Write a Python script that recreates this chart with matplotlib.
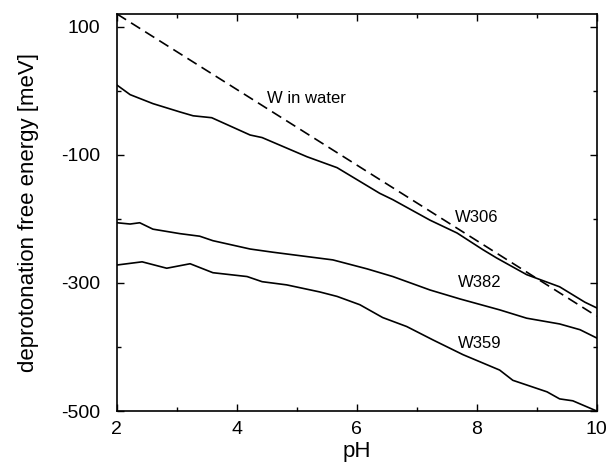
import matplotlib
matplotlib.use("Agg")
import matplotlib.pyplot as plt
from matplotlib.ticker import MultipleLocator

plt.rcParams['font.family'] = ['Liberation Sans', 'DejaVu Sans']
plt.rcParams['axes.unicode_minus'] = False

# W in water (straight line)
ph_water = [2.0, 10.0]
e_water = [120, -352]

ph_306 = [2.0, 2.22, 2.6, 3.05, 3.27, 3.58, 4.22, 4.42, 5.17, 5.67, 6.38, 6.6, 7.22, 7.67, 8.1, 8.33, 8.83, 9.38, 9.8, 10.0]
e_306 = [9, -6, -20, -33, -39, -42, -69, -73, -103, -120, -160, -170, -202, -222, -248, -261, -287, -306, -330, -339]

ph_382 = [2.0, 2.22, 2.38, 2.6, 3.05, 3.38, 3.6, 4.22, 4.6, 5.1, 5.6, 6.17, 6.6, 7.22, 7.72, 8.38, 8.83, 9.38, 9.72, 10.0]
e_382 = [-206, -208, -206, -216, -223, -227, -234, -247, -252, -258, -264, -278, -290, -311, -325, -342, -355, -364, -373, -386]

ph_359 = [2.0, 2.42, 2.83, 3.22, 3.6, 4.17, 4.42, 4.83, 5.38, 5.67, 6.05, 6.43, 6.83, 7.27, 7.77, 8.38, 8.6, 9.17, 9.38, 9.6, 10.0]
e_359 = [-272, -267, -277, -270, -284, -290, -298, -303, -314, -321, -334, -354, -368, -389, -412, -436, -452, -470, -481, -484, -500]

fig = plt.figure(figsize=(6.09, 4.65), dpi=100)
ax = fig.add_axes([0.192, 0.116, 0.788, 0.854])

ax.plot(ph_water, e_water, color='black', lw=1.2, dashes=(6.5, 3.5))
ax.plot(ph_306, e_306, color='black', lw=1.2)
ax.plot(ph_382, e_382, color='black', lw=1.2)
ax.plot(ph_359, e_359, color='black', lw=1.2)

ax.text(4.5, -12, 'W in water', fontsize=12, va='center', ha='left')
ax.text(7.63, -198, 'W306', fontsize=12, va='center', ha='left')
ax.text(7.68, -300, 'W382', fontsize=12, va='center', ha='left')
ax.text(7.68, -394, 'W359', fontsize=12, va='center', ha='left')

ax.set_xlim(2, 10)
ax.set_ylim(-500, 120)
ax.set_xticks([2, 4, 6, 8, 10])
ax.xaxis.set_minor_locator(MultipleLocator(1))
ax.set_yticks([100, -100, -300, -500])
ax.yaxis.set_minor_locator(MultipleLocator(100))
ax.tick_params(which='both', direction='in', top=True, right=True, labelsize=14, width=1)
ax.tick_params(which='major', length=5)
ax.tick_params(which='minor', length=3)
ax.tick_params(axis='y', which='both', pad=12)
ax.tick_params(axis='x', which='both', pad=7)
for s in ax.spines.values():
    s.set_linewidth(1.2)

ax.set_xlabel('pH', fontsize=16, labelpad=2)
ax.set_ylabel('deprotonation free energy [meV]', fontsize=16, labelpad=16)

fig.savefig('out.png', dpi=100)
